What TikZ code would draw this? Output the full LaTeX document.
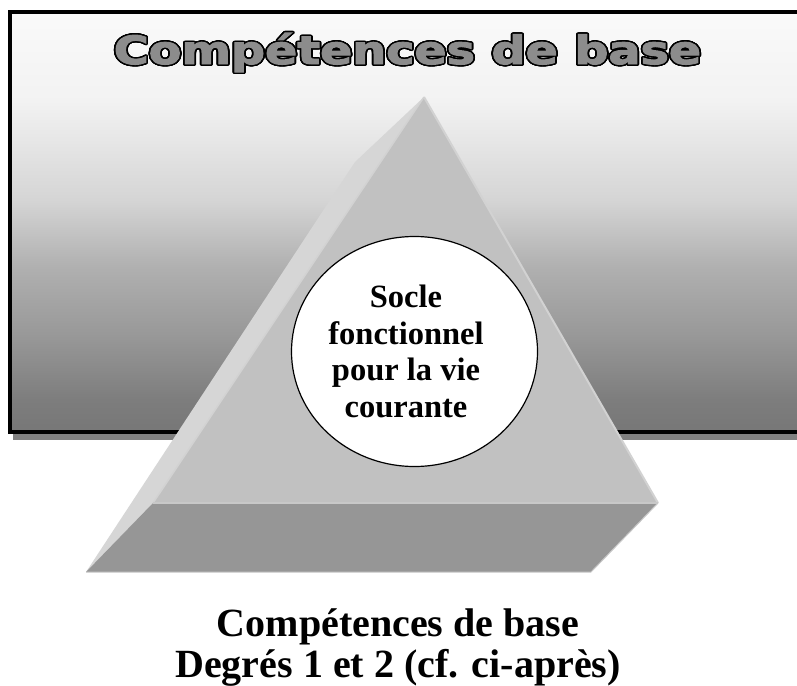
\documentclass[tikz,border=0pt]{standalone}
\usepackage{fontspec}
\setmainfont{Liberation Serif}
\newfontfamily\titlefont{DejaVu Sans Bold}[FakeBold=2.5]
\usepackage{graphicx}
\usepackage{contour}
\contourlength{1.4pt}
\contournumber{24}
\usetikzlibrary{shapes.geometric}
\definecolor{titlegray}{RGB}{140,140,140}
\definecolor{shadowgray}{RGB}{128,128,128}
\definecolor{frontface}{RGB}{193,193,193}
\definecolor{leftface}{RGB}{214,214,214}
\definecolor{bandface}{RGB}{150,150,150}
\definecolor{edgelight}{RGB}{210,210,210}
\definecolor{bandedge}{RGB}{200,200,200}
\pgfdeclareverticalshading{panelshade}{100bp}{rgb(0bp)=(0.467,0.467,0.467); rgb(25bp)=(0.467,0.467,0.467); rgb(28.76bp)=(0.49,0.49,0.49); rgb(36.75bp)=(0.6,0.6,0.6); rgb(44.63bp)=(0.69,0.69,0.69); rgb(52.63bp)=(0.835,0.835,0.835); rgb(64.56bp)=(0.95,0.95,0.95); rgb(75bp)=(0.98,0.98,0.98); rgb(100bp)=(0.98,0.98,0.98)}
\tikzset{
  bodytext/.style={align=center, inner sep=0pt, font=\bfseries\fontsize{32.5}{36.5}\selectfont},
  captiontext/.style={anchor=base, inner sep=0pt, font=\bfseries\fontsize{40}{42}\selectfont},
}
\begin{document}
\begin{tikzpicture}[x=1pt,y=-1pt]
\useasboundingbox (0,0) rectangle (797,685);
% panel shadow and panel
\fill[shadowgray] (13,15) rectangle (815,439.5);
\shadedraw[shading=panelshade, draw=black, line width=4pt] (10,12.5) rectangle (810,431.5);
% title
\node[anchor=base, inner sep=0pt] (title) at (407.5,64)
  {\scalebox{1.22}[1]{\titlefont\fontsize{39}{40}\selectfont\contour{black}{\textcolor{titlegray}{Compétences de base}}}};
% pyramid
\coordinate (apex) at (424,97);
\coordinate (lt) at (355,162);
\coordinate (fl) at (153,503);
\coordinate (fr) at (658,503);
\coordinate (bl) at (86,572);
\coordinate (br) at (591,572);
\fill[leftface] (apex) -- (lt) -- (bl) -- (fl) -- cycle;
\fill[frontface] (apex) -- (fl) -- (fr) -- cycle;
\fill[bandface] (fl) -- (fr) -- (br) -- (bl) -- cycle;
\draw[edgelight, line width=1.5pt] (apex) -- (fl);
\draw[edgelight, line width=2pt] (apex) -- (fr);
\draw[bandedge, line width=2.5pt] (fl) -- (fr);
\draw[bandedge, line width=1pt] (fr) -- (br) -- (bl);
% ellipse
\node[ellipse, draw=black, fill=white, line width=1.2pt, minimum width=246pt, minimum height=230pt, inner sep=0pt] (socle) at (414.5,351.5) {};
\node[bodytext] (socletext) at (406,351.5) {Socle\\fonctionnel\\pour la vie\\courante};
% caption
\node[captiontext] (caption1) at (398,636) {Compétences de base};
\node[captiontext] (caption2) at (398,677) {Degrés 1 et 2 (cf. ci-après)};
\end{tikzpicture}
\end{document}
